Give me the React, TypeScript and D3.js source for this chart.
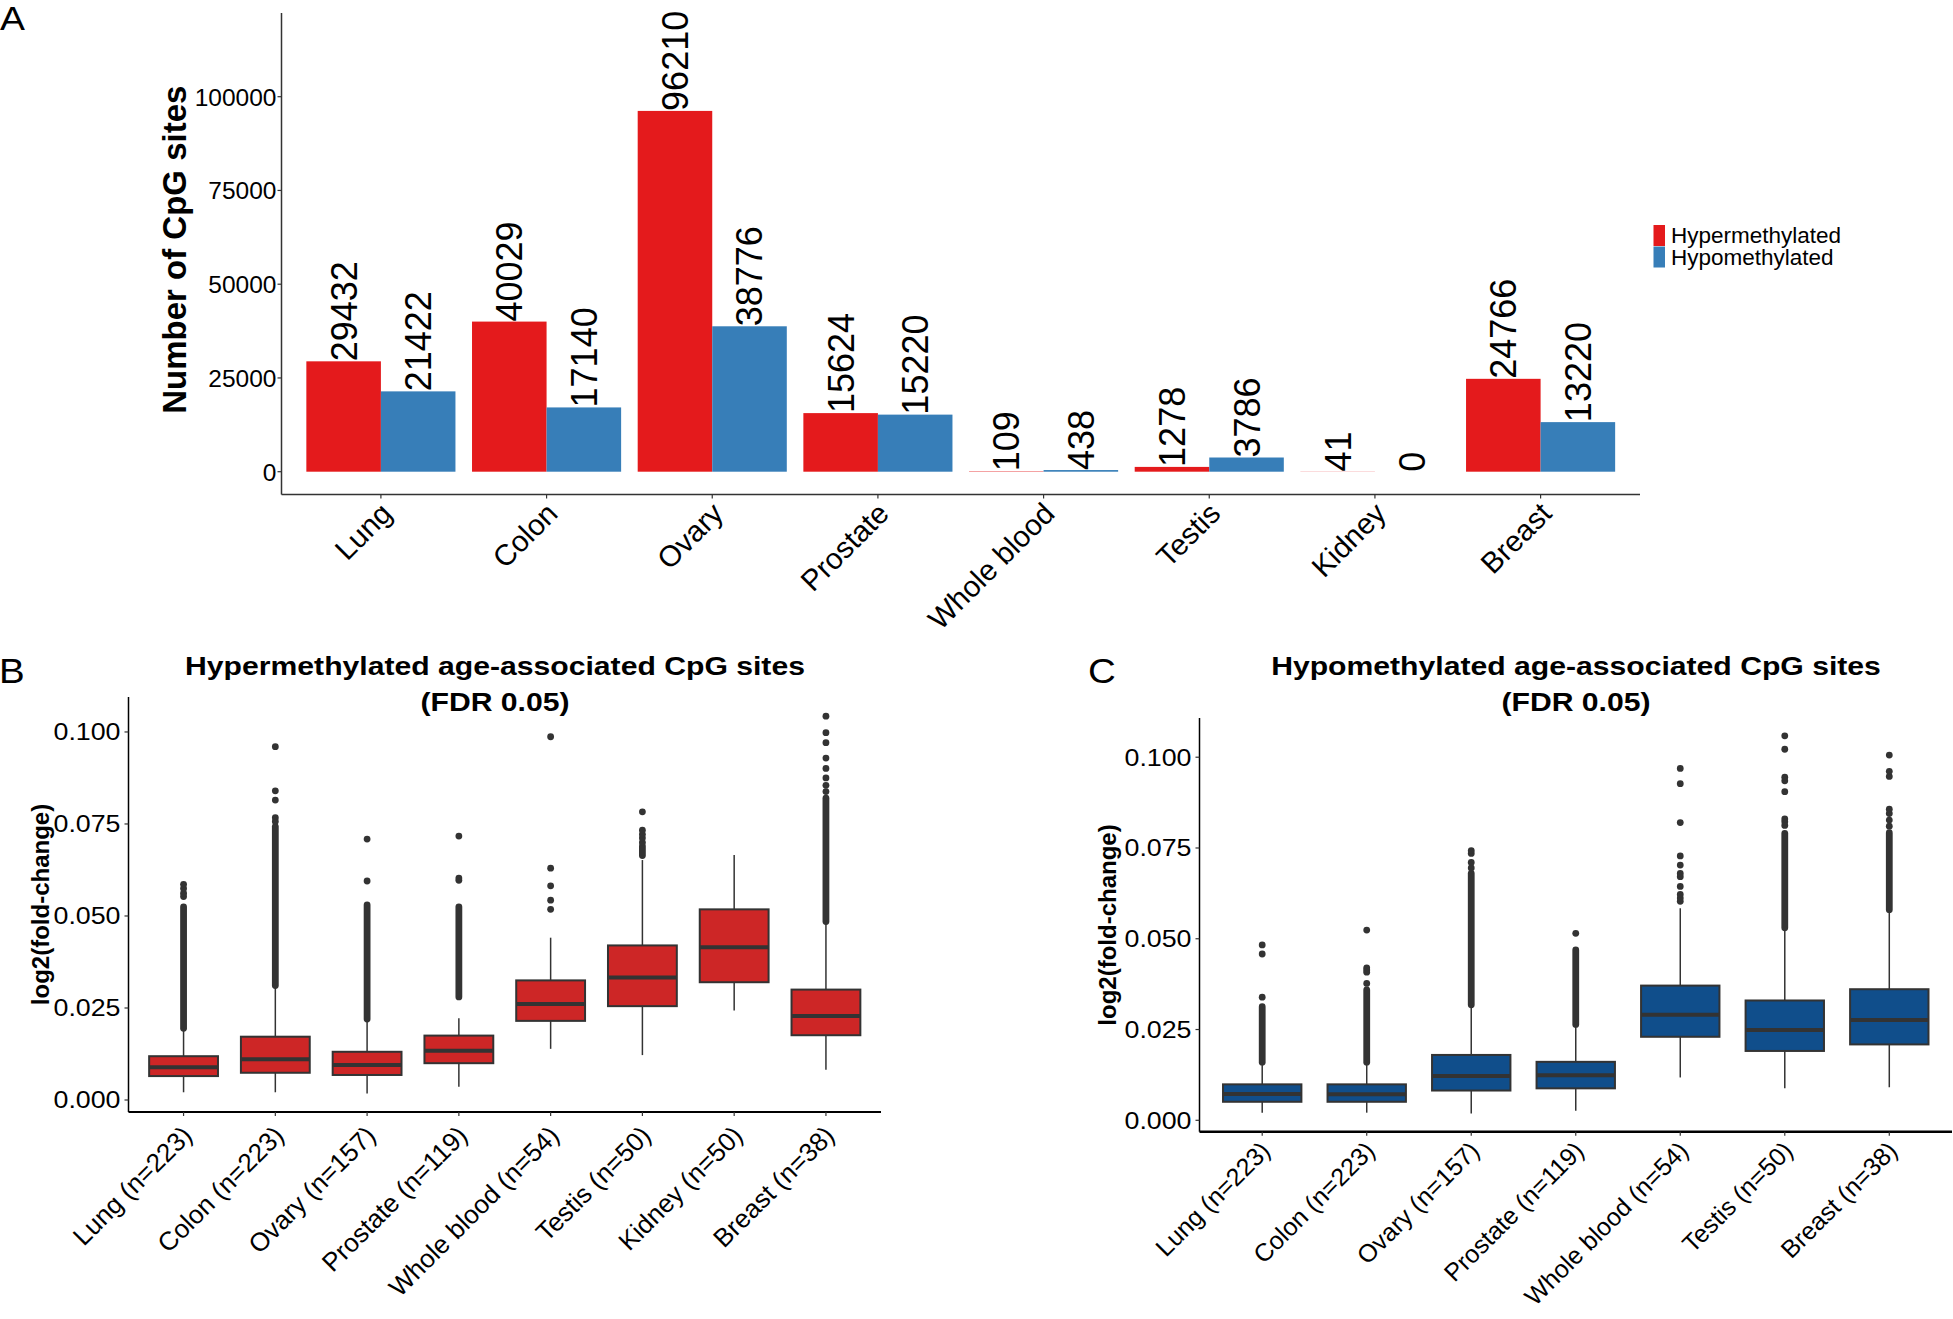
import React, { useEffect } from "react";
import * as d3 from "d3";

const FONT = "'Liberation Sans', Arial, Helvetica, sans-serif";

// ---------------- Panel A data ----------------
const tissuesA = ["Lung", "Colon", "Ovary", "Prostate", "Whole blood", "Testis", "Kidney", "Breast"];
const hyperCounts = [29432, 40029, 96210, 15624, 109, 1278, 41, 24766];
const hypoCounts = [21422, 17140, 38776, 15220, 438, 3786, 0, 13220];
const seriesA = ["Hypermethylated", "Hypomethylated"];
const colorsA = ["#E41A1C", "#377EB8"];
const yTicksA = [0, 25000, 50000, 75000, 100000];

// ---------------- Panel B data (hypermethylated) ----------------
const labelsB = ["Lung (n=223)", "Colon (n=223)", "Ovary (n=157)", "Prostate (n=119)", "Whole blood (n=54)", "Testis (n=50)", "Kidney (n=50)", "Breast (n=38)"];
const hyperWhiskerLow = [0.0021, 0.0021, 0.0018, 0.0036, 0.0139, 0.0122, 0.0243, 0.0082];
const hyperQ1 = [0.0065, 0.0074, 0.0068, 0.0100, 0.0215, 0.0255, 0.0320, 0.0176];
const hyperMedian = [0.0089, 0.0111, 0.0095, 0.0134, 0.0261, 0.0333, 0.0415, 0.0228];
const hyperQ3 = [0.0119, 0.0172, 0.0131, 0.0175, 0.0325, 0.0420, 0.0518, 0.0300];
const hyperWhiskerHigh = [0.0192, 0.0308, 0.0217, 0.0222, 0.0441, 0.0652, 0.0666, 0.0480];
const hyperDenseLow = [0.0195, 0.0311, 0.0220, 0.0280, null, 0.0664, null, 0.0485];
const hyperDenseHigh = [0.0525, 0.0743, 0.0530, 0.0525, null, 0.0690, null, 0.0820];
const hyperOutliers = [
  [0.0553, 0.0562, 0.0575, 0.0586],
  [0.0757, 0.0767, 0.0815, 0.0840, 0.0960],
  [0.0595, 0.0709],
  [0.0597, 0.0603, 0.0717],
  [0.0518, 0.0543, 0.0582, 0.0630, 0.0987],
  [0.0700, 0.0712, 0.0722, 0.0733, 0.0783],
  [],
  [0.0838, 0.0855, 0.0875, 0.0901, 0.0929, 0.0971, 0.0998, 0.1043],
];

// ---------------- Panel C data (hypomethylated) ----------------
const labelsC = ["Lung (n=223)", "Colon (n=223)", "Ovary (n=157)", "Prostate (n=119)", "Whole blood (n=54)", "Testis (n=50)", "Breast (n=38)"];
const hypoWhiskerLow = [0.0021, 0.0021, 0.0019, 0.0026, 0.0118, 0.0088, 0.0091];
const hypoQ1 = [0.0051, 0.0051, 0.0082, 0.0088, 0.0230, 0.0191, 0.0209];
const hypoMedian = [0.00725, 0.0072, 0.0122, 0.0124, 0.0291, 0.0249, 0.0276];
const hypoQ3 = [0.0099, 0.0099, 0.0180, 0.0161, 0.0371, 0.0330, 0.0361];
const hypoWhiskerHigh = [0.0157, 0.0157, 0.0315, 0.0261, 0.0584, 0.0526, 0.0575];
const hypoDenseLow = [0.0160, 0.0160, 0.0318, 0.0264, null, 0.0530, 0.0580];
const hypoDenseHigh = [0.0313, 0.0359, 0.0680, 0.0469, null, 0.0790, 0.0792];
const hypoOutliers = [
  [0.0339, 0.0458, 0.0483],
  [0.0377, 0.0408, 0.0414, 0.0420, 0.0524],
  [0.0695, 0.0710, 0.0735, 0.0743],
  [0.0515],
  [0.0603, 0.0612, 0.0622, 0.0644, 0.0671, 0.0680, 0.0703, 0.0728, 0.0820, 0.0927, 0.0969],
  [0.0812, 0.0822, 0.0830, 0.0905, 0.0935, 0.0945, 0.1022, 0.1059],
  [0.0810, 0.0827, 0.0845, 0.0857, 0.0947, 0.0961, 0.1006],
];

const boxTicks = [0, 0.025, 0.05, 0.075, 0.1];
const titleLine2 = "(FDR 0.05)";

function PanelA() {
  const left = 281.5, right = 1640, top = 13, bottom = 494.5;
  const x = d3.scalePoint<string>().domain(tissuesA).range([left, right]).padding(0.6);
  const y = d3.scaleLinear().domain([-6080, 122320]).range([bottom, top]);
  const bw = x.step() * 0.45;
  const fmt = d3.format("d");
  return (
    <g>
      {tissuesA.map((t, i) => {
        const cx = x(t)!;
        const vals = [hyperCounts[i], hypoCounts[i]];
        return (
          <g key={t}>
            {vals.map((v, j) => {
              const bx = cx - bw + j * bw;
              return (
                <g key={j}>
                  <rect x={bx} y={y(v)} width={bw} height={Math.max(0, y(0) - y(v))} fill={colorsA[j]} />
                  <text
                    transform={`translate(${bx + bw / 2},${y(v)}) rotate(-90)`}
                    dy="0.36em"
                    fontSize={36}
                    fontFamily={FONT}
                    textAnchor="start"
                    fill="#000"
                  >
                    {fmt(v)}
                  </text>
                </g>
              );
            })}
          </g>
        );
      })}
      <line x1={left} x2={left} y1={top} y2={bottom} stroke="#333" strokeWidth={1.5} />
      <line x1={left} x2={right} y1={bottom} y2={bottom} stroke="#333" strokeWidth={1.5} />
      {yTicksA.map((t) => (
        <g key={t}>
          <line x1={left - 4} x2={left} y1={y(t)} y2={y(t)} stroke="#333" strokeWidth={1.2} />
          <text x={left - 5} y={y(t)} dy="0.36em" textAnchor="end" fontSize={24.5} fontFamily={FONT} fill="#000">
            {fmt(t)}
          </text>
        </g>
      ))}
      {tissuesA.map((t) => (
        <g key={t}>
          <line x1={x(t)!} x2={x(t)!} y1={bottom} y2={bottom + 4} stroke="#333" strokeWidth={1.2} />
          <text
            transform={`translate(${x(t)! - 2},${bottom + 6}) rotate(-45)`}
            dy="0.71em"
            textAnchor="end"
            fontSize={29.5}
            fontFamily={FONT}
            fill="#000"
          >
            {t}
          </text>
        </g>
      ))}
      <text
        transform={`translate(174,${(top + bottom) / 2 - 4}) rotate(-90)`}
        dy="0.36em"
        textAnchor="middle"
        fontSize={33}
        fontWeight="bold"
        fontFamily={FONT}
        fill="#000"
      >
        Number of CpG sites
      </text>
      {seriesA.map((s, j) => (
        <g key={s}>
          <rect x={1653.5} y={225 + j * 21.5} width={11.5} height={21} fill={colorsA[j]} />
          <text x={1671} y={243 + j * 22} fontSize={22.5} fontFamily={FONT} fill="#000">
            {s}
          </text>
        </g>
      ))}
      <text transform="translate(0,30) scale(1.1,1)" fontSize={34} fontFamily={FONT} fill="#000">A</text>
    </g>
  );
}

type BoxProps = {
  labels: string[];
  wl: number[]; q1: number[]; med: number[]; q3: number[]; wh: number[];
  denseLo: (number | null)[]; denseHi: (number | null)[];
  outliers: number[][];
  fill: string;
  left: number; right: number; top: number; bottom: number;
  domain: [number, number];
  title: string; titleX: number;
  yTitleX: number; yTitleY: number;
  letter: string; letterX: number;
  xAxisWidth: number;
  labelSize: number; labelOffset: number;
};

function BoxPanel(p: BoxProps) {
  const x = d3.scalePoint<string>().domain(p.labels).range([p.left, p.right]).padding(0.6);
  const y = d3.scaleLinear().domain(p.domain).range([p.bottom, p.top]);
  const bw = x.step() * 0.75;
  const fmt = d3.format(".3f");
  return (
    <g>
      {p.labels.map((lab, i) => {
        const cx = x(lab)!;
        const lo = p.denseLo[i], hi = p.denseHi[i];
        return (
          <g key={lab}>
            <line x1={cx} x2={cx} y1={y(p.wl[i])} y2={y(p.q1[i])} stroke="#333" strokeWidth={1.5} />
            <line x1={cx} x2={cx} y1={y(p.q3[i])} y2={y(p.wh[i])} stroke="#333" strokeWidth={1.5} />
            {lo != null && hi != null && (
              <line x1={cx} x2={cx} y1={y(lo)} y2={y(hi)} stroke="#333" strokeWidth={6.8} strokeLinecap="round" />
            )}
            {p.outliers[i].map((v, k) => (
              <circle key={k} cx={cx} cy={y(v)} r={3.4} fill="#333" />
            ))}
            <rect
              x={cx - bw / 2}
              y={y(p.q3[i])}
              width={bw}
              height={y(p.q1[i]) - y(p.q3[i])}
              fill={p.fill}
              stroke="#333"
              strokeWidth={2}
            />
            <line x1={cx - bw / 2} x2={cx + bw / 2} y1={y(p.med[i])} y2={y(p.med[i])} stroke="#333" strokeWidth={4} />
          </g>
        );
      })}
      <line x1={p.left} x2={p.left} y1={p.top} y2={p.bottom} stroke="#000" strokeWidth={1.5} />
      <line x1={p.left} x2={p.right} y1={p.bottom} y2={p.bottom} stroke="#000" strokeWidth={p.xAxisWidth} />
      {boxTicks.map((t) => (
        <g key={t}>
          <line x1={p.left - 4} x2={p.left} y1={y(t)} y2={y(t)} stroke="#333" strokeWidth={1.2} />
          <text
            transform={`translate(${p.left - 8},${y(t)}) scale(1.14,1)`}
            dy="0.36em"
            textAnchor="end"
            fontSize={23.5}
            fontFamily={FONT}
            fill="#000"
          >
            {fmt(t)}
          </text>
        </g>
      ))}
      {p.labels.map((lab) => (
        <g key={lab}>
          <line x1={x(lab)!} x2={x(lab)!} y1={p.bottom} y2={p.bottom + 4} stroke="#333" strokeWidth={1.2} />
          <text
            transform={`translate(${x(lab)! - 3},${p.bottom + p.labelOffset}) rotate(-45)`}
            dy="0.71em"
            textAnchor="end"
            fontSize={p.labelSize}
            fontFamily={FONT}
            fill="#000"
          >
            {lab}
          </text>
        </g>
      ))}
      <text
        transform={`translate(${p.yTitleX},${p.yTitleY}) rotate(-90)`}
        dy="0.36em"
        textAnchor="middle"
        fontSize={24}
        fontWeight="bold"
        fontFamily={FONT}
        fill="#000"
      >
        log2(fold-change)
      </text>
      <text transform={`translate(${p.titleX},675) scale(1.16,1)`} textAnchor="middle" fontSize={26} fontWeight="bold" fontFamily={FONT} fill="#000">
        {p.title}
      </text>
      <text transform={`translate(${p.titleX},710.5) scale(1.16,1)`} textAnchor="middle" fontSize={26} fontWeight="bold" fontFamily={FONT} fill="#000">
        {titleLine2}
      </text>
      <text transform={`translate(${p.letterX},683) scale(1.1,1)`} fontSize={35} fontFamily={FONT} fill="#000">
        {p.letter}
      </text>
    </g>
  );
}

export default function App() {
  useEffect(() => {
    document.body.style.margin = "0";
  }, []);
  return (
    <svg
      width={1953}
      height={1319}
      style={{ position: "absolute", left: 0, top: 0, background: "#fff" }}
      xmlns="http://www.w3.org/2000/svg"
    >
      <rect x={0} y={0} width={1953} height={1319} fill="#fff" />
      <PanelA />
      <BoxPanel
        labels={labelsB}
        wl={hyperWhiskerLow} q1={hyperQ1} med={hyperMedian} q3={hyperQ3} wh={hyperWhiskerHigh}
        denseLo={hyperDenseLow} denseHi={hyperDenseHigh} outliers={hyperOutliers}
        fill="#CD2626"
        left={128.5} right={881} top={697} bottom={1112}
        domain={[-0.00326, 0.1095]}
        title="Hypermethylated age-associated CpG sites" titleX={495}
        yTitleX={40} yTitleY={904.5}
        letter="B" letterX={-1}
        xAxisWidth={1.8}
        labelSize={26} labelOffset={12}
      />
      <BoxPanel
        labels={labelsC}
        wl={hypoWhiskerLow} q1={hypoQ1} med={hypoMedian} q3={hypoQ3} wh={hypoWhiskerHigh}
        denseLo={hypoDenseLow} denseHi={hypoDenseHigh} outliers={hypoOutliers}
        fill="#104E8B"
        left={1199.5} right={1952} top={718} bottom={1131.7}
        domain={[-0.00314, 0.1108]}
        title="Hypomethylated age-associated CpG sites" titleX={1576}
        yTitleX={1107} yTitleY={925}
        letter="C" letterX={1088}
        xAxisWidth={2.5}
        labelSize={25} labelOffset={8}
      />
    </svg>
  );
}
